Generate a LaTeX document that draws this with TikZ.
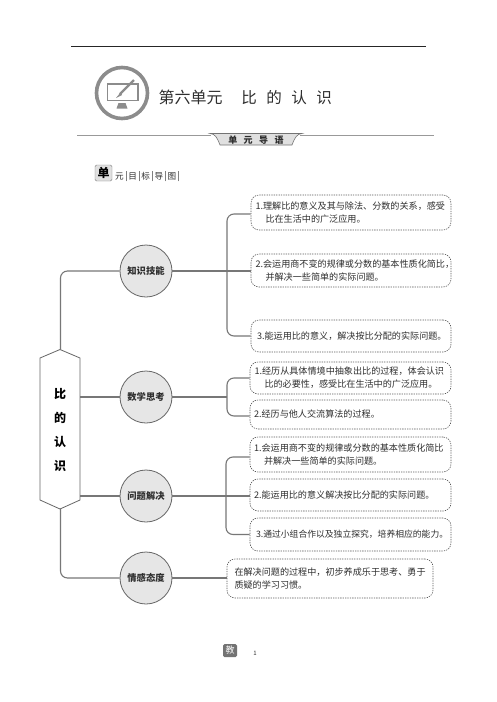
\documentclass[tikz,border=0pt]{standalone}
\usepackage{fontspec}
\setmainfont{Noto Sans CJK SC}
\usetikzlibrary{shapes.geometric}
\definecolor{ink}{HTML}{2E2E2E}
\definecolor{conn}{HTML}{777777}
\definecolor{disc}{HTML}{E6E6E6}
\definecolor{icon}{HTML}{8C8C8C}
\tikzset{
 goalbox/.style={draw=black!65,dash pattern=on 1.3pt off 1.1pt,line width=0.6pt,rounded corners=8pt,
   inner sep=0pt,align=left,text=ink,font=\fontsize{9.1}{13.2}\selectfont},
 topic/.style={circle,draw=black!60,fill=disc,line width=0.8pt,minimum size=52pt,inner sep=0pt,
   font=\fontsize{9.3}{11}\selectfont\bfseries,text=ink},
 wire/.style={draw=conn,line width=1.1pt},
 curvewire/.style={wire,rounded corners=7pt},
 roottext/.style={inner sep=0pt,font=\fontsize{12}{14}\selectfont\bfseries,text=black},
 titlechar/.style={inner sep=0pt,font=\fontsize{15.5}{18}\selectfont,text=ink},
}
\newcommand{\gbox}[7]{% name, x1, y1, x2, y2, left pad, text
 \node[goalbox,minimum width=#4pt-#2pt,minimum height=#5pt-#3pt,text width=#4pt-#2pt-2*#6pt] (#1)
   at ({(#2+#4)/2},{(#3+#5)/2}) {#7};}
\newcommand{\vb}{\hspace{2pt}\raisebox{-1.5pt}{\textcolor{black!50}{\rule{0.5pt}{10.5pt}}}\hspace{2pt}}
\begin{document}
\begin{tikzpicture}[x=1pt,y=-1pt]
\useasboundingbox (0,0) rectangle (496,702);
\fill[white] (0,0) rectangle (496,702);
% header
\draw[line width=0.9pt,black!85] (71,46) -- (426,46);
\draw[icon,line width=3.6pt,fill=white] (122,93) circle (25.5);
\draw[icon,line width=1.6pt] (107.5,84) rectangle (138,100.5);
\fill[icon] (118.5,103) -- (125.5,103) -- (127.5,108.5) -- (116.5,108.5) -- cycle;
\draw[icon,line width=2.4pt] (134,80) -- (120,94);
\fill[icon] (120.9,92) -- (122,95) -- (116,98) -- cycle;
\node[anchor=west,inner sep=0pt,font=\fontsize{16}{18}\selectfont,text=ink] (title) at (158.5,97.5) {第六单元};
\node[titlechar] (t1) at (249,97.5) {比};
\node[titlechar] (t2) at (274,97.5) {的};
\node[titlechar] (t3) at (299,97.5) {认};
\node[titlechar] (t4) at (324,97.5) {识};
\draw[black!40,line width=0.7pt] (77,135) -- (211,135) (300,135) -- (434,135);
\draw[black!55,fill=black!12,line width=0.6pt] (210,133.5) .. controls (215,134) and (217,137) .. (220,145) -- (292,145) .. controls (295,137) and (297,134) .. (302,133.5) -- cycle;
\node[inner sep=0pt,font=\fontsize{9}{11}\selectfont\bfseries,text=ink] (guide) at (256,140) {单\hspace{6.5pt}元\hspace{6.5pt}导\hspace{6.5pt}语};
\node[draw=black!50,fill=black!12,rounded corners=1.5pt,minimum width=17pt,minimum height=16pt,inner sep=0pt,font=\fontsize{12}{13}\selectfont\bfseries,text=black] (dan) at (103.5,173) {单};
\node[anchor=west,inner sep=0pt,font=\fontsize{8.6}{10}\selectfont,text=ink] (sub) at (115,176) {元\vb 目\vb 标\vb 导\vb 图\vb};
% root
\draw[black!60,line width=0.8pt] (60,349.5) -- (80,358) -- (80,500) -- (60,509) -- (40,500) -- (40,358) -- cycle;
\coordinate (rtop) at (60.5,349.5);
\coordinate (rbot) at (60.5,509);
\coordinate (r2) at (80,397);
\coordinate (r3) at (80,496);
\node[roottext] (rt1) at (60,394) {比};
\node[roottext] (rt2) at (60,418) {的};
\node[roottext] (rt3) at (60,442) {认};
\node[roottext] (rt4) at (60,466) {识};
% topics
\node[topic] (c1) at (146,271) {知识技能};
\node[topic] (c2) at (146,397) {数学思考};
\node[topic] (c3) at (146,496) {问题解决};
\node[topic] (c4) at (146,578) {情感态度};
% boxes
\gbox{b1}{251}{195}{451}{230}{4.5}{1.理解比的意义及其与除法、分数的关系，感受\\\hspace*{10pt}比在生活中的广泛应用。}
\gbox{b2}{251}{254}{451}{287}{4.5}{2.会运用商不变的规律或分数的基本性质化简比，\\\hspace*{10pt}并解决一些简单的实际问题。}
\gbox{b3}{251}{320}{451}{352}{6}{3.能运用比的意义，解决按比分配的实际问题。}
\gbox{b4}{250}{362}{451}{394}{4.5}{1.经历从具体情境中抽象出比的过程，体会认识\\\hspace*{10pt}比的必要性，感受比在生活中的广泛应用。}
\gbox{b5}{250}{400}{451}{429}{4}{2.经历与他人交流算法的过程。}
\gbox{b6}{250}{437}{451}{472}{4}{1.会运用商不变的规律或分数的基本性质化简比\\\hspace*{10pt}并解决一些简单的实际问题。}
\gbox{b7}{250}{479}{451}{511}{4}{2.能运用比的意义解决按比分配的实际问题。}
\gbox{b8}{250}{518}{451}{551}{6}{\fontsize{8.8}{13}\selectfont 3.通过小组合作以及独立探究，培养相应的能力。}
\gbox{b9}{227}{559}{433}{598}{7.5}{在解决问题的过程中，初步养成乐于思考、勇于\\质疑的学习习惯。}
% connectors
\draw[curvewire] (c1.west) -| (rtop);
\draw[wire] (r2) -- (c2.west);
\draw[wire] (r3) -- (c3.west);
\draw[curvewire] (rbot) |- (c4.west);
\coordinate (j1) at (227,271);
\coordinate (j2) at (227,397);
\coordinate (j3) at (226,496);
\draw[wire] (c1.east) -- (b2.west |- c1.east);
\draw[curvewire] (b1.west |- 0,214) -| (j1);
\draw[curvewire] (j1) |- (b3.west |- 0,336);
\draw[wire] (c2.east) -- (j2);
\draw[curvewire] (b4.west |- 0,378) -| (j2) |- (b5.west |- 0,416);
\draw[wire] (c3.east) -- (b7.west |- c3.east);
\draw[curvewire] (b6.west |- 0,457) -| (j3) |- (b8.west |- 0,534.5);
\draw[wire] (c4.east) -- (b9.west |- c4.east);
% footer
\node[fill=black!55,rounded corners=1.5pt,minimum width=14pt,minimum height=13pt,inner sep=0pt,font=\fontsize{9}{10}\selectfont,text=white] (jiao) at (230,650.5) {教};
\node[inner sep=0pt,font=\fontsize{6}{7}\selectfont,text=ink] (pg) at (255,653) {1};
\end{tikzpicture}
\end{document}
